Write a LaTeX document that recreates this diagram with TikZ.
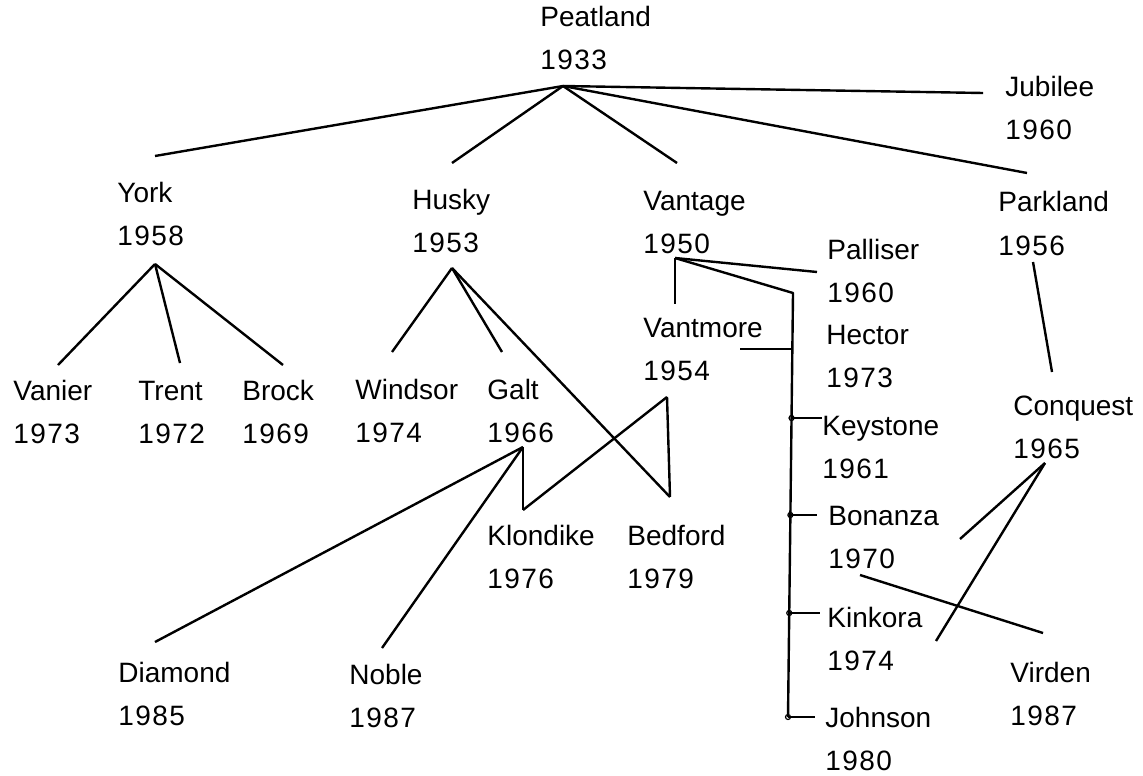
\documentclass[tikz,border=0pt]{standalone}
\usepackage{fontspec}
\setmainfont{Liberation Sans}
\newfontfamily\yearfont[LetterSpace=5]{Liberation Sans}
\usepackage{tikz}

\begin{document}
\begin{tikzpicture}[x=0.5pt,y=-0.5pt,
    cultivar/.style={anchor=base west, align=left, inner sep=0pt,
        font=\fontsize{14}{21.5}\selectfont},
    link/.style={line width=1.2pt, line join=round}]
        % Рамка рисунка
        \useasboundingbox (0,0) rectangle (1143,775);

        % Сорта: имя/x/y (строка года)/название/год
        \foreach \n/\x/\y/\name/\yr in {
            peat/540/70/Peatland/1933, jub/1005/140/Jubilee/1960,
            york/117/245/York/1958, husky/412/252/Husky/1953,
            vant/643/253/Vantage/1950, park/998/255/Parkland/1956,
            pall/827/302/Palliser/1960, vmore/643/380/Vantmore/1954,
            hector/826/387/Hector/1973, keys/822/478/Keystone/1961,
            conq/1013/458/Conquest/1965, bon/828/568/Bonanza/1970,
            kink/827/670/Kinkora/1974, virden/1010/725/Virden/1987,
            john/825/770/Johnson/1980, vanier/13/443/Vanier/1973,
            trent/138/443/Trent/1972, brock/242/443/Brock/1969,
            windsor/355/442/Windsor/1974, galt/487/442/Galt/1966,
            klon/487/588/Klondike/1976, bed/627/588/Bedford/1979,
            diam/118/725/Diamond/1985, noble/349/727/Noble/1987}
        {
            \node[cultivar] (\n) at (\x,\y) {\name\\{\yearfont\yr}};
        }

        % Точки ветвления под родителями
        \foreach \n/\x/\y in {
            peat/563/86, york/155/264, husky/452/268, vant/675/258,
            galt/523/447, vmore/667/397, park/1033/262, conq/1045/463,
            bon/860/575}
        {
            \coordinate (r-\n) at (\x,\y);
        }

        % Концы линий у потомков
        \foreach \n/\x/\y in {
            york/155/156, husky/452/163, vant/677/163, park/1027/173,
            jub/983/93, vanier/58/365, trent/180/363, brock/283/365,
            windsor/392/352, galt/502/352, bed/670/497, diam/155/642,
            noble/382/648, klon/523/510, pall/817/272, vmore/675/304,
            conq/1052/372, bon/960/539, kink/936/641, virden/1043/633}
        {
            \coordinate (t-\n) at (\x,\y);
        }

        % Связи родитель -> потомок
        \foreach \p/\c in {
            peat/york, peat/husky, peat/vant, peat/park, peat/jub,
            york/vanier, york/trent, york/brock,
            husky/windsor, husky/galt, husky/bed,
            galt/diam, galt/noble, galt/klon,
            vmore/klon, vmore/bed,
            vant/vmore, vant/pall,
            park/conq, conq/bon, conq/kink, bon/virden}
        {
            \draw[link] (r-\p) -- (t-\c);
        }

        % Ствол от Vantage
        \coordinate (corner) at (793,293);
        \coordinate (trunkend) at (788,717);
        \draw[link] (r-vant) -- (corner) -- (trunkend);

        % Отводы от ствола
        \foreach \n/\y/\x in {hector/349/740, keys/418/822, bon/515/817,
            kink/613/820, john/717/815}
        {
            \coordinate (s-\n) at ({793-5*(\y-293)/424},\y);
            \coordinate (e-\n) at (\x,\y);
            \draw[link] (s-\n) -- (e-\n);
        }
        \foreach \n in {keys, bon, kink, john}
            \draw[line width=0.6pt] (s-\n) circle (2.5);
    \end{tikzpicture}
\end{document}
